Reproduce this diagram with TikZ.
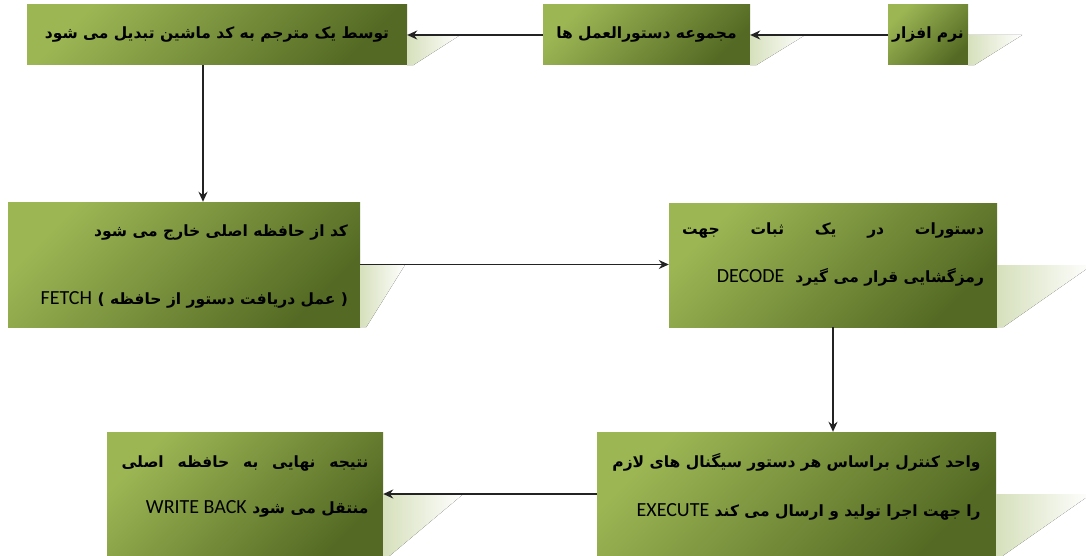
\documentclass[tikz,border=0pt]{standalone}
\usepackage{fontspec}
\usetikzlibrary{arrows.meta,positioning}
\TeXXeTstate=1
\newfontfamily\fafont[Script=Arabic]{DejaVu Sans}
\newfontfamily\enfont{Carlito}
\definecolor{boxlight}{RGB}{156,182,84}
\definecolor{boxdark}{RGB}{84,106,36}
\definecolor{shadowgreen}{RGB}{214,224,188}
\definecolor{arrowgray}{RGB}{35,35,35}
\newcommand{\fa}[1]{{\fafont\bfseries\beginR #1\endR}}
\newcommand{\faline}[2]{\hbox to #1{\fafont\bfseries\beginR #2\endR}}
\newcommand{\en}[1]{\beginL{\enfont\mdseries\fontsize{20}{22}\selectfont #1}\endL}
\newcommand{\boxshadow}[2]{%
  \fill[left color=shadowgreen,right color=white]
    (#1.east) -- ([xshift=#2]#1.east) -- ([xshift=6pt]#1.south east) -- (#1.south east) -- cycle;}

\begin{document}
\begin{tikzpicture}[x=1pt,y=-1pt,
  stepbox/.style={inner sep=0pt,shading=axis,top color=boxlight,bottom color=boxdark,shading angle=45},
  txt/.style={inner sep=0pt,align=right,font=\fontsize{15.5}{18}\selectfont},
  arr/.style={-{Stealth[length=10pt,width=9pt]},line width=1.5pt,draw=arrowgray}]
\useasboundingbox (0,0) rectangle (1086,556);
% boxes
\node[stepbox,minimum width=80pt,minimum height=60pt] (soft) at (928,35) {};
\node[stepbox,minimum width=207pt,minimum height=60pt] (instr) at (646.5,35) {};
\node[stepbox,minimum width=380pt,minimum height=60pt] (trans) at (217,35) {};
\node[stepbox,minimum width=352pt,minimum height=125pt] (fetch) at (184,264.5) {};
\node[stepbox,minimum width=328pt,minimum height=124pt] (decode) at (833,265) {};
\node[stepbox,minimum width=276pt,minimum height=124pt] (wb) at (245,494) {};
\node[stepbox,minimum width=399pt,minimum height=124pt] (exec) at (796.5,494) {};
% shadows
\boxshadow{soft}{54pt}
\boxshadow{instr}{55pt}
\boxshadow{trans}{53pt}
\boxshadow{fetch}{45pt}
\boxshadow{decode}{95pt}
\boxshadow{wb}{80pt}
\boxshadow{exec}{95pt}
% texts
\node[txt] (soft-t) at (soft) {\fa{نرم افزار}};
\node[txt] (instr-t) at (instr) {\fa{مجموعه دستورالعمل ها}};
\node[txt] (trans-t) at (trans) {\fa{توسط یک مترجم به کد ماشین تبدیل می شود}};
\node[txt,anchor=east] (fetch-t) at ([xshift=-12pt,yshift=-2pt]fetch.east)
  {\fa{کد از حافظه اصلی خارج می شود}\\[50pt]\fa{( عمل دریافت دستور از حافظه ) \en{FETCH}}};
\node[txt] (decode-t) at ([yshift=10pt]decode.center)
  {\faline{302pt}{دستورات\hfill در\hfill یک\hfill ثبات\hfill جهت}\\[30pt]\fa{رمزگشایی قرار می گیرد \ \en{DECODE}}};
\node[txt] (exec-t) at ([yshift=7pt]exec.center)
  {\fa{واحد کنترل براساس هر دستور سیگنال های لازم}\\[31pt]\fa{را جهت اجرا تولید و ارسال می کند \en{EXECUTE}}};
\node[txt] (wb-t) at ([yshift=8pt]wb.center)
  {\faline{247pt}{نتیجه\hfill نهایی\hfill به\hfill حافظه\hfill اصلی}\\[28pt]\fa{منتقل می شود \en{WRITE BACK}}};
% arrows
\draw[arr] (soft.west) -- (instr.east);
\draw[arr] (instr.west) -- (trans.east);
\draw[arr] ([xshift=-14pt]trans.south) -- ([xshift=-14pt]trans.south |- fetch.north);
\draw[arr] (fetch.east) -- (fetch.east -| decode.west);
\draw[arr] (decode.south) -- (decode.south |- exec.north);
\draw[arr] (exec.west) -- (exec.west -| wb.east);
\end{tikzpicture}
\end{document}
